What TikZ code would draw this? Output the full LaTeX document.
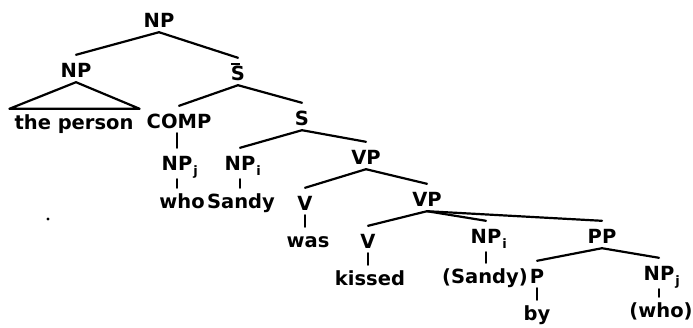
\documentclass[tikz,border=0pt]{standalone}
\usepackage{fontspec}
\setmainfont{DejaVu Sans}
\newcommand\lsub[1]{\rlap{\kern1pt\raisebox{-5pt}{\fontsize{13}{13}\selectfont #1}}}
\tikzset{
  lbl/.style={anchor=base, inner sep=0pt, font=\fontsize{19.5}{20}\selectfont\bfseries},
  cat/.style={lbl, text height=22pt, text depth=5pt},
  catsub/.style={lbl, text height=22pt, text depth=9pt},
  word/.style={lbl, text height=20pt, text depth=4pt},
  branch/.style={line width=2.2pt, line cap=round, line join=round}
}
\begin{document}
\begin{tikzpicture}[x=1pt,y=-1pt]
\useasboundingbox (0,0) rectangle (693,327);
\node[cat] (np0) at (159,27) {NP};
\node[cat] (np1) at (76,77) {NP};
\node[cat] (sbar) at (238,80) {\rlap{\rule[15pt]{9pt}{1.8pt}}S};
\node[word] (person) at (74,129) {the person};
\node[cat] (comp) at (179,128) {COMP};
\node[cat] (s) at (302,125) {S};
\node[catsub] (npj) at (177,170) {NP\lsub{j}};
\node[catsub] (npi) at (240,170) {NP\lsub{i}};
\node[word] (who) at (182,208) {who};
\node[word] (sandy) at (241,208) {Sandy};
\node[cat] (vp1) at (366,164) {VP};
\node[cat] (v1) at (305,210) {V};
\node[word] (was) at (308,247) {was};
\node[cat] (vp2) at (427,206) {VP};
\node[cat] (v2) at (368,248) {V};
\node[word] (kissed) at (370,285) {kissed};
\node[catsub] (npi2) at (486,243) {NP\lsub{i}};
\node[word] (sandy2) at (485,283) {(Sandy)};
\node[cat] (p) at (537,283) {P};
\node[cat] (pp) at (602,243) {PP};
\node[catsub] (npj2) at (659,280) {NP\lsub{j}};
\node[word] (by) at (537,320) {by};
\node[word] (who2) at (661,317) {(who)};

\draw[branch] (np0.south) -- (np1.north);
\draw[branch] (np0.south) -- (sbar.north);
\draw[branch] (np1.south) -- ([xshift=-5pt]person.north west) -- ([xshift=6pt]person.north east) -- cycle;
\draw[branch] (sbar.south) -- (comp.north);
\draw[branch] (sbar.south) -- (s.north);
\draw[branch] (npj.north |- comp.south) -- (npj.north);
\draw[branch] (npj.south) -- (npj.south |- who.north);
\draw[branch] (s.south) -- (npi.north);
\draw[branch] (s.south) -- (vp1.north);
\draw[branch] (npi.south) -- (npi.south |- sandy.north);
\draw[branch] (vp1.south) -- (v1.north);
\draw[branch] (vp1.south) -- (vp2.north);
\draw[branch] (v1.south) -- (v1.south |- was.north);
\draw[branch] (vp2.south) -- (v2.north);
\draw[branch] (vp2.south) -- (npi2.north);
\draw[branch] (vp2.south) -- (pp.north);
\draw[branch] (v2.south) -- (v2.south |- kissed.north);
\draw[branch] (npi2.south) -- (npi2.south |- sandy2.north);
\draw[branch] (pp.south) -- (p.north);
\draw[branch] (pp.south) -- (npj2.north);
\draw[branch] (p.south) -- (p.south |- by.north);
\draw[branch] (npj2.south) -- (npj2.south |- who2.north);
\fill (48,219) circle (1.6pt);
\end{tikzpicture}
\end{document}
